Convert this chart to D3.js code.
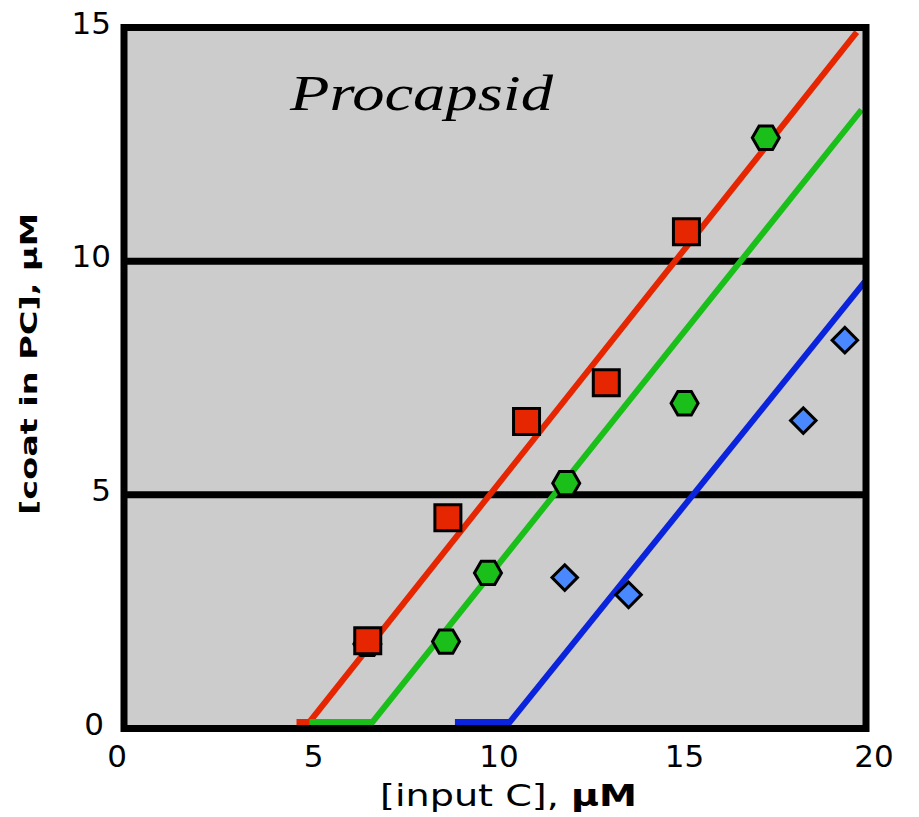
<!DOCTYPE html>
<html>
<head>
<meta charset="utf-8">
<script src="https://cdn.jsdelivr.net/npm/d3@7"></script>
<style>
  body { margin: 0; background: #fff; }
  svg { display: block; }
</style>
</head>
<body>
<div id="wrapper"></div>
<script>
// data
const xTicks = [0, 5, 10, 15, 20];
const yTicks = [0, 5, 10, 15];
const gridValues = [5, 10];

// red squares
const redInput = [6.57, 8.73, 10.85, 13.0, 15.16];
const redCoat = [1.88, 4.51, 6.57, 7.40, 10.63];
// green hexagons
const greenInput = [6.56, 8.68, 9.81, 11.92, 15.11, 17.3];
const greenCoat = [1.81, 1.86, 3.33, 5.25, 6.96, 12.64];
// blue diamonds
const blueInput = [11.88, 13.6, 18.31, 19.43];
const blueCoat = [3.23, 2.86, 6.59, 8.31];

// fitted lines (flat threshold then slope)
const redFitX = [4.65, 5.0, 19.75];
const redFitY = [0.14, 0.14, 14.9];
const greenFitX = [5.0, 6.7, 19.88];
const greenFitY = [0.14, 0.14, 13.24];
const blueFitX = [8.92, 10.4, 19.97];
const blueFitY = [0.14, 0.14, 9.56];

async function drawChart() {
  const zip = (xs, ys) => xs.map((x, i) => ({ x: x, y: ys[i] }));
  const xAccessor = (d) => d.x;
  const yAccessor = (d) => d.y;

  const series = [
    { name: "red", line: "#e62600", fill: "#e62600", shape: "square",
      points: zip(redInput, redCoat), fit: zip(redFitX, redFitY) },
    { name: "green", line: "#1abf1a", fill: "#1abf1a", shape: "hexagon",
      points: zip(greenInput, greenCoat), fit: zip(greenFitX, greenFitY) },
    { name: "blue", line: "#0a23dc", fill: "#4a88ff", shape: "diamond",
      points: zip(blueInput, blueCoat), fit: zip(blueFitX, blueFitY) },
  ];

  // 2. dimensions
  let dimensions = {
    width: 919,
    height: 817,
    margin: { top: 27.5, right: 53, bottom: 88.5, left: 124 },
  };
  dimensions.boundedWidth =
    dimensions.width - dimensions.margin.left - dimensions.margin.right;
  dimensions.boundedHeight =
    dimensions.height - dimensions.margin.top - dimensions.margin.bottom;

  // 3. canvas
  const wrapper = d3
    .select("#wrapper")
    .append("svg")
    .attr("width", dimensions.width)
    .attr("height", dimensions.height);

  const bounds = wrapper
    .append("g")
    .attr("transform", `translate(${dimensions.margin.left},${dimensions.margin.top})`);

  // 4. scales
  const xScale = d3.scaleLinear().domain([0, 20]).range([0, dimensions.boundedWidth]);
  const yScale = d3.scaleLinear().domain([0, 15]).range([dimensions.boundedHeight, 0]);

  // plot frame
  bounds
    .append("rect")
    .attr("x", xScale(0))
    .attr("y", yScale(15))
    .attr("width", xScale(20) - xScale(0))
    .attr("height", yScale(0) - yScale(15))
    .attr("fill", "#cccccc");

  bounds
    .append("g")
    .selectAll("line")
    .data(gridValues)
    .join("line")
    .attr("x1", xScale(0))
    .attr("x2", xScale(20))
    .attr("y1", (d) => yScale(d))
    .attr("y2", (d) => yScale(d))
    .attr("stroke", "#000")
    .attr("stroke-width", 7);

  // 5. fitted lines
  const lineGenerator = d3
    .line()
    .x((d) => xScale(xAccessor(d)))
    .y((d) => yScale(yAccessor(d)));

  bounds
    .append("g")
    .selectAll("path")
    .data(series)
    .join("path")
    .attr("d", (d) => lineGenerator(d.fit))
    .attr("fill", "none")
    .attr("stroke", (d) => d.line)
    .attr("stroke-width", 6);

  // markers
  const hexagon = (r) => {
    const pts = d3.range(6).map((i) => {
      const a = (Math.PI / 3) * i;
      return [Math.cos(a) * r, Math.sin(a) * r];
    });
    return d3.line()(pts) + "Z";
  };
  const shapePath = (shape) => {
    if (shape === "square") return d3.symbol(d3.symbolSquare, 26 * 26)();
    if (shape === "diamond") return d3.symbol(d3.symbolSquare, 18 * 18)();
    return hexagon(13.5);
  };

  const order = [series[1], series[0], series[2]];
  order.forEach((s) => {
    bounds
      .append("g")
      .selectAll("path")
      .data(s.points)
      .join("path")
      .attr("d", shapePath(s.shape))
      .attr("transform", (d) =>
        `translate(${xScale(xAccessor(d))},${yScale(yAccessor(d))})` +
        (s.shape === "diamond" ? " rotate(45)" : "")
      )
      .attr("fill", s.fill)
      .attr("stroke", "#000")
      .attr("stroke-width", 3);
  });

  // border on top
  bounds
    .append("rect")
    .attr("x", xScale(0))
    .attr("y", yScale(15))
    .attr("width", xScale(20) - xScale(0))
    .attr("height", yScale(0) - yScale(15))
    .attr("fill", "none")
    .attr("stroke", "#000")
    .attr("stroke-width", 7);

  // 6. peripherals
  const tickFont = "'DejaVu Sans', Verdana, sans-serif";

  bounds
    .append("g")
    .selectAll("text")
    .data(xTicks)
    .join("text")
    .attr("x", (d) => xScale(d) + (d === 0 ? -7 : d === 20 ? 8 : 4))
    .attr("y", dimensions.boundedHeight + 38)
    .attr("text-anchor", "middle")
    .style("font-family", tickFont)
    .style("font-size", "31px")
    .text((d) => d);

  bounds
    .append("g")
    .selectAll("text")
    .data(yTicks)
    .join("text")
    .attr("x", (d) => (d === 0 ? -20 : -13))
    .attr("y", (d) => yScale(d) + 6)
    .attr("text-anchor", "end")
    .style("font-family", tickFont)
    .style("font-size", "31px")
    .text((d) => d);

  // x label
  const xLabel = wrapper
    .append("text")
    .attr("x", 380)
    .attr("y", 806)
    .attr("textLength", 257)
    .attr("lengthAdjust", "spacingAndGlyphs")
    .style("font-family", tickFont)
    .style("font-size", "30px");
  xLabel.append("tspan").text("[input C], ");
  xLabel.append("tspan").style("font-weight", "bold").text("µM");

  // y label
  wrapper
    .append("text")
    .attr("transform", "translate(37,515) rotate(-90)")
    .attr("textLength", 302)
    .attr("lengthAdjust", "spacingAndGlyphs")
    .style("font-family", tickFont)
    .style("font-weight", "bold")
    .style("font-size", "23px")
    .text("[coat in PC], µM");

  // title inside the plot
  wrapper
    .append("text")
    .attr("x", 290)
    .attr("y", 110)
    .attr("textLength", 263)
    .attr("lengthAdjust", "spacingAndGlyphs")
    .style("font-family", "'Liberation Serif', 'Times New Roman', serif")
    .style("font-style", "italic")
    .style("font-size", "50px")
    .text("Procapsid");
}
drawChart();
</script>
</body>
</html>
